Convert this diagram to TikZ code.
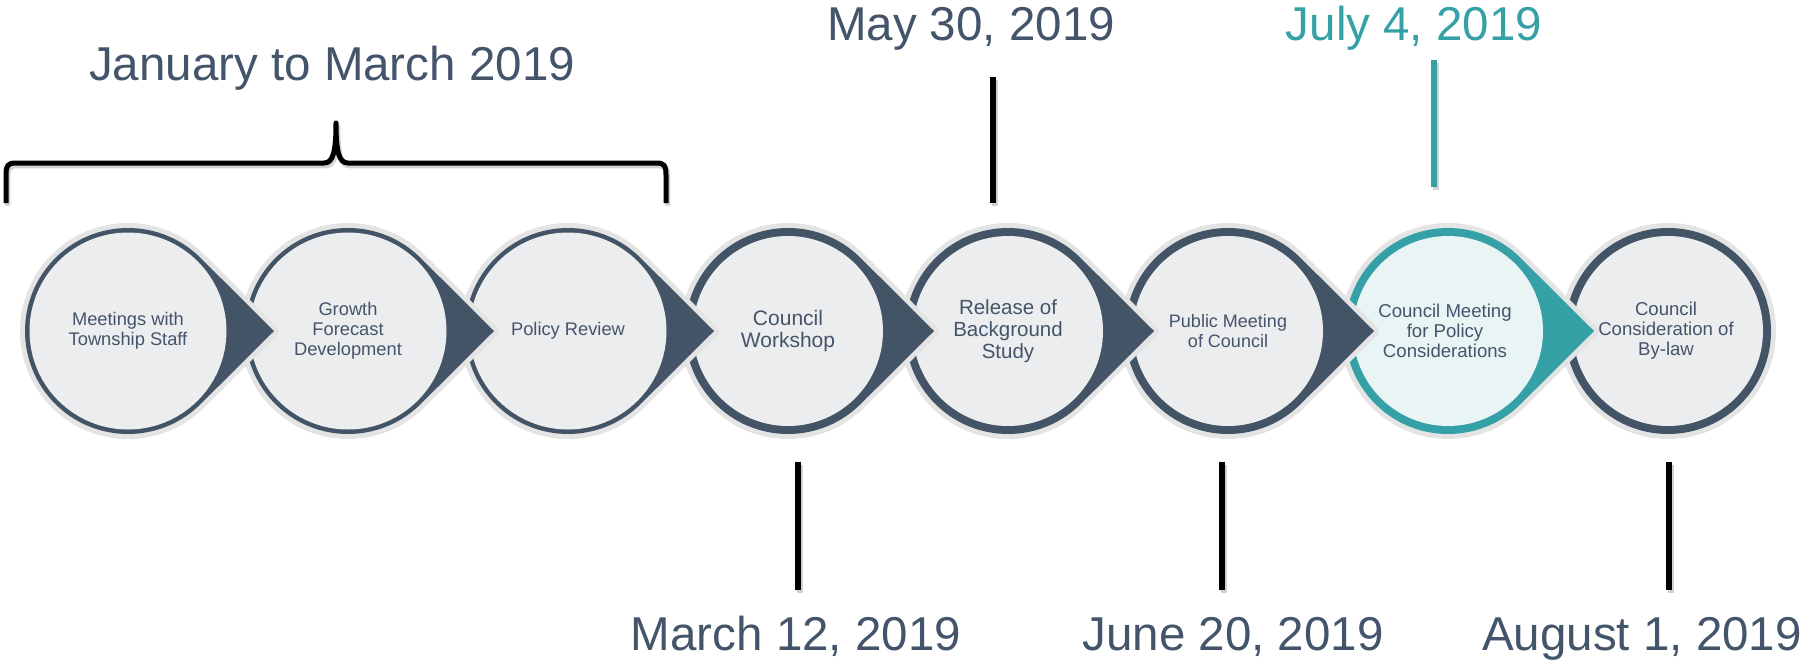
\documentclass[tikz,border=0pt]{standalone}
\usepackage{fontspec}
\setmainfont{Liberation Sans}
\usetikzlibrary{calc}
\definecolor{slate}{HTML}{435466}
\definecolor{txt}{HTML}{44546A}
\definecolor{tealc}{HTML}{35A0A5}
\definecolor{disk}{HTML}{ECEDEF}
\definecolor{diskteal}{HTML}{E9F4F5}
\definecolor{rim}{HTML}{E4E4E4}
\newcommand\droppath[1]{([shift={(146,0)}]#1) -- ([shift={(45.1:103)}]#1) arc[start angle=45.1,end angle=314.9,radius=103] -- cycle}
\begin{document}
\begin{tikzpicture}[x=1pt,y=1pt,
  rimshape/.style={draw=rim,fill=rim,line width=10,line join=round},
  stepsmall/.style={align=center,text=txt,font=\fontsize{18.3}{19.8}\selectfont},
  stepbig/.style={align=center,text=txt,font=\fontsize{21}{22.5}\selectfont},
  stepmid/.style={align=center,text=txt,font=\fontsize{18.6}{20}\selectfont},
  datelabel/.style={anchor=base,text=txt,font=\fontsize{47.5}{50}\selectfont,inner sep=0},
  tickline/.style={draw=black,line width=5.5},
  tickshadow/.style={draw=black!18,line width=6,transform canvas={shift={(1.5,-2.5)}}},
  bracepath/.style={draw=black,line width=5,line join=round}]
\useasboundingbox (0,0) rectangle (1806,-664);
% centres
\foreach \i/\x in {1/128,2/348,3/568,4/788,5/1008,6/1228,7/1448,8/1668}
  \coordinate (c\i) at (\x,-331);
% circle 8 (plain)
\fill[rim] (c8) circle[radius=108];
\fill[slate] (c8) circle[radius=103];
\fill[disk] (c8) circle[radius=95];
% circle 7 (teal)
\path[rimshape] \droppath{c7};
\fill[tealc] \droppath{c7};
\fill[diskteal] (c7) circle[radius=95];
% circles 6..4 (thick ring)
\foreach \i in {6,5,4}{
  \path[rimshape] \droppath{c\i};
  \fill[slate] \droppath{c\i};
  \fill[disk] (c\i) circle[radius=95];
}
% circles 3..1 (thin ring)
\foreach \i in {3,2,1}{
  \path[rimshape] \droppath{c\i};
  \fill[slate] \droppath{c\i};
  \fill[disk] (c\i) circle[radius=98.5];
}
% step texts
\node[stepsmall] (s1) at (c1) {Meetings with\\Township Staff};
\node[stepsmall] (s2) at (c2) {Growth\\Forecast\\Development};
\node[stepsmall] (s3) at (c3) {Policy Review};
\node[stepbig] (s4) at (c4) {Council\\Workshop};
\node[stepbig,font=\fontsize{20.5}{22}\selectfont] (s5) at (c5) {Release of\\Background\\Study};
\node[stepsmall,font=\fontsize{18}{20}\selectfont] (s6) at (c6) {Public Meeting\\of Council};
\node[stepmid] (s7) at ([xshift=-3]c7) {Council Meeting\\for Policy\\Considerations};
\node[stepmid] (s8) at ([xshift=-2]c8) {Council\\Consideration of\\By-law};
% date labels
\node[datelabel] (d0) at (332,-80) {January to March 2019};
\node[datelabel] (d1) at (971,-40) {May 30, 2019};
\node[datelabel,text=tealc] (d2) at (1414,-40) {July 4, 2019};
\node[datelabel] (d3) at (796,-650) {March 12, 2019};
\node[datelabel] (d4) at (1233,-650) {June 20, 2019};
\node[datelabel] (d5) at (1642,-650) {August 1, 2019};
% tick lines
\coordinate (mayA) at (993,-77);  \coordinate (mayB) at (993,-203);
\coordinate (julA) at (1434,-60); \coordinate (julB) at (1434,-187);
\coordinate (marA) at (798,-462); \coordinate (marB) at (798,-590);
\coordinate (junA) at (1222,-462); \coordinate (junB) at (1222,-590);
\coordinate (augA) at (1669,-462); \coordinate (augB) at (1669,-590);
\foreach \a/\b in {mayA/mayB,julA/julB,marA/marB,junA/junB,augA/augB}
  \draw[tickshadow] (\a) -- (\b);
\draw[tickline] (mayA) -- (mayB);
\draw[tickline,draw=tealc] (julA) -- (julB);
\draw[tickline] (marA) -- (marB);
\draw[tickline] (junA) -- (junB);
\draw[tickline] (augA) -- (augB);
% brace
\coordinate (brL) at (6,-203);
\coordinate (brR) at (666,-203);
\coordinate (brT) at (336,-123);
\draw[draw=black!18,line width=5.5,transform canvas={shift={(1.5,-2.5)}}]
  (brL) -- (6,-175) .. controls (6,-165) and (8,-163) .. (16,-163)
  -- (324,-163) .. controls (333,-163) and (336,-152) .. (brT)
  .. controls (336,-152) and (339,-163) .. (348,-163)
  -- (656,-163) .. controls (664,-163) and (666,-165) .. (666,-175) -- (brR);
\draw[bracepath]
  (brL) -- (6,-175) .. controls (6,-165) and (8,-163) .. (16,-163)
  -- (324,-163) .. controls (333,-163) and (336,-152) .. (brT)
  .. controls (336,-152) and (339,-163) .. (348,-163)
  -- (656,-163) .. controls (664,-163) and (666,-165) .. (666,-175) -- (brR);
\end{tikzpicture}
\end{document}
